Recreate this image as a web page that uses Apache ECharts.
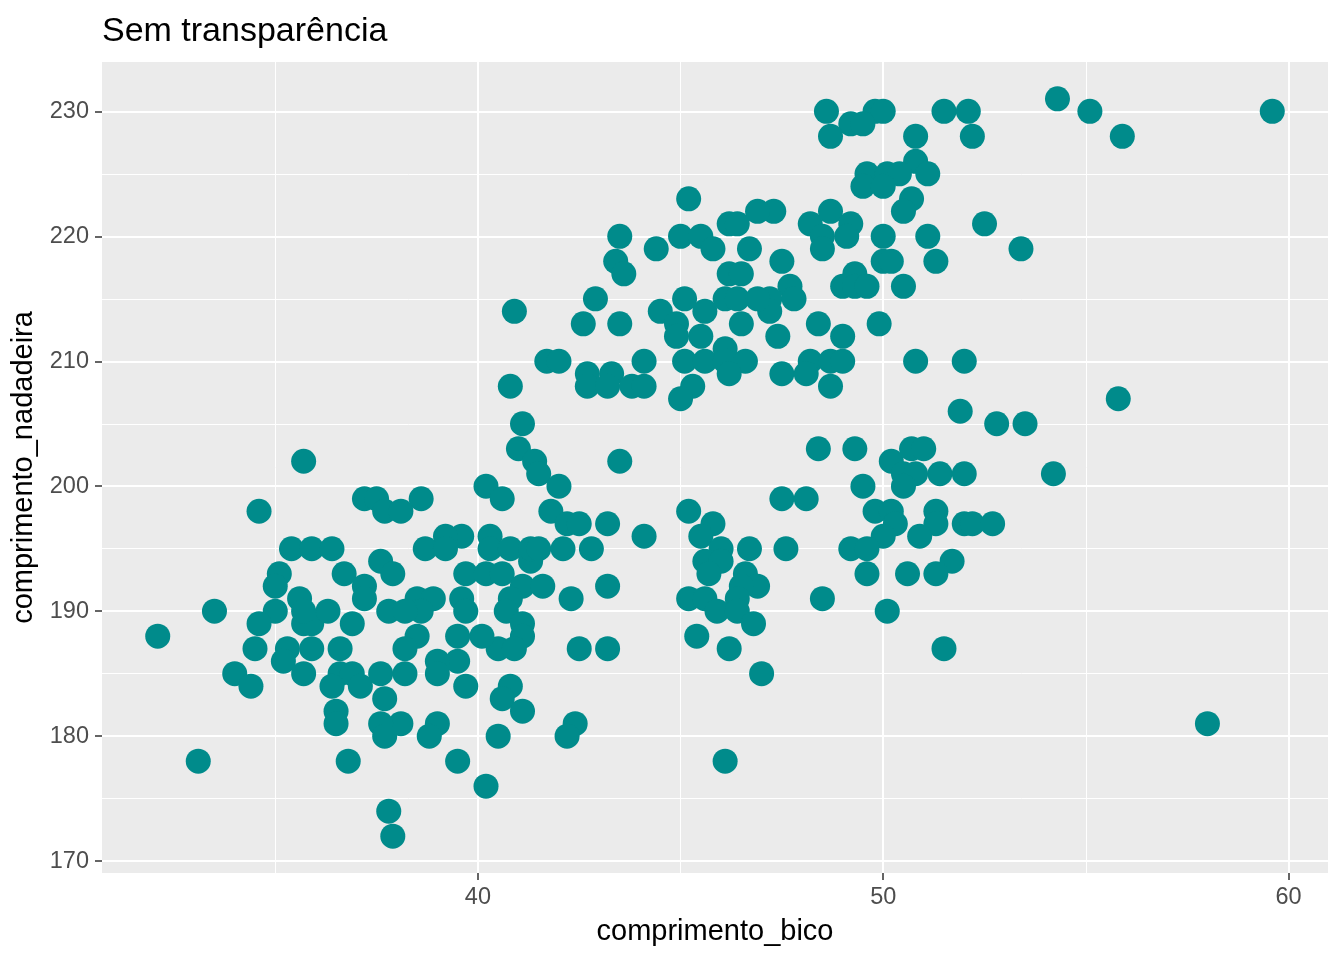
<!DOCTYPE html>
<html>
<head>
    <meta charset="utf-8"/>
    <title>Sem transparência</title>
    <script src="https://cdn.jsdelivr.net/npm/echarts@6/dist/echarts.min.js"></script>
    <style>
        html, body { margin: 0; padding: 0; background: #fff; }
        #chart1 { width: 1344px; height: 960px; }
    </style>
</head>
<body>
<div id="chart1"></div>
<script type="text/javascript">
    // comprimento do bico (x) e da nadadeira (y)
    var comprimentoBico = [
        48.6, 49.8, 50.0, 51.5, 52.1, 55.1, 59.6, 54.3,
        49.2, 49.5, 48.7, 50.8, 52.2, 55.9, 50.8,
        49.6, 50.1, 50.4, 51.1, 49.5, 50.0, 50.7,
        50.5, 47.3, 46.9, 48.7,
        48.2, 49.2, 52.5, 48.5, 49.1, 50.0, 51.1,
        48.5, 53.4, 47.5, 50.0, 50.2, 51.3, 49.3,
        49.0, 49.3, 49.6, 50.5, 47.7, 47.2, 47.8, 47.2,
        48.4, 49.9, 47.4, 49.0,
        48.2, 48.7, 49.0, 50.8, 52.0, 47.5, 48.1, 48.7, 51.9,
        45.2, 43.5, 44.4, 45.0, 45.5, 45.8, 46.2, 46.4, 46.7,
        43.4, 43.6, 46.2, 46.5,
        42.9, 45.1, 45.6, 46.1, 46.4, 46.9,
        40.9, 44.5, 42.6, 43.5, 44.9, 46.5, 44.9, 45.5, 46.1,
        41.7, 42.0, 44.1, 45.1, 45.6, 46.1, 46.6,
        46.2, 45.3, 45.0, 42.7, 43.3, 42.7, 43.2, 43.8, 44.1, 40.8,
        41.1, 41.0, 41.4, 41.5, 42.0, 43.5, 40.2, 40.6, 38.6,
        41.8, 42.2, 42.5, 43.2, 42.8, 44.1, 45.2,
        40.3, 39.6, 39.2, 38.7, 39.2, 40.3, 40.8, 41.3, 41.3, 41.5, 42.1,
        39.7, 40.2, 40.6, 41.1, 41.6, 43.2, 42.3, 40.8, 40.7,
        41.1, 41.1, 40.5, 40.9, 42.5, 43.2, 40.1, 39.5, 39.5, 39.0,
        39.0, 38.2, 39.7, 40.8, 40.6, 41.1, 42.4, 42.2, 40.5,
        39.0, 38.8, 38.1, 39.5, 40.2,
        38.5, 38.9, 39.6, 39.7, 38.6, 38.5, 38.2,
        35.7, 34.6, 37.2, 37.5, 37.7, 38.1,
        35.4, 35.9, 36.4,
        35.1, 35.0, 36.7, 37.6, 37.9, 37.2, 37.2, 32.1, 33.5, 35.0,
        35.6, 35.7, 35.9, 36.3, 35.7, 34.6, 36.9, 37.8, 38.2,
        34.5, 35.3, 35.2, 35.9, 36.6, 35.7, 34.0, 34.4, 36.6, 36.9,
        37.6, 36.4, 37.1, 37.7, 36.5, 36.5, 37.6, 37.7,
        33.1, 36.8, 37.8, 37.9,
        52.8, 53.5, 48.4, 49.3, 50.2, 50.7, 51.0, 54.2,
        50.5, 50.8, 51.4, 52.0, 50.5, 49.5, 47.5, 48.1,
        49.8, 50.2, 51.3, 45.8, 50.3, 51.3, 52.0, 52.2, 52.7,
        45.5, 50.0, 50.9, 46.0, 46.7, 47.6, 49.2, 49.6,
        45.6, 46.0, 51.7, 45.7, 46.6, 49.6, 50.6, 51.3,
        46.9, 46.5, 45.2, 45.6, 46.4, 48.5, 45.9, 46.4, 50.1,
        46.8, 45.4, 46.2, 51.5, 47.0, 46.1,
        55.8, 58.0
    ];
    var comprimentoNadadeira = [
        230, 230, 230, 230, 230, 230, 230, 231,
        229, 229, 228, 228, 228, 228, 226,
        225, 225, 225, 225, 224, 224, 223,
        222, 222, 222, 222,
        221, 221, 221, 220, 220, 220, 220,
        219, 219, 218, 218, 218, 218, 217,
        216, 216, 216, 216, 216, 215, 215, 214,
        213, 213, 212, 212,
        210, 210, 210, 210, 210, 209, 209, 208, 206,
        223, 220, 219, 220, 220, 219, 221, 221, 219,
        218, 217, 217, 217,
        215, 215, 214, 215, 215, 215,
        214, 214, 213, 213, 213, 213, 212, 212, 211,
        210, 210, 210, 210, 210, 210, 210,
        209, 208, 207, 209, 209, 208, 208, 208, 208, 208,
        205, 203, 202, 201, 200, 202, 200, 199, 199,
        198, 197, 197, 197, 195, 196, 198,
        196, 196, 196, 195, 195, 195, 195, 194, 195, 195, 195,
        193, 193, 193, 192, 192, 192, 191, 191, 190,
        189, 188, 187, 187, 187, 187, 188, 188, 186, 186,
        185, 185, 184, 184, 183, 182, 181, 180, 180,
        181, 180, 181, 178, 176,
        191, 191, 191, 190, 190, 188, 187,
        202, 198, 199, 199, 198, 198,
        195, 195, 195,
        193, 192, 193, 194, 193, 192, 191, 188, 190, 190,
        191, 189, 189, 190, 190, 189, 189, 190, 190,
        187, 187, 186, 187, 187, 185, 185, 184, 185, 185,
        185, 184, 184, 183, 182, 181, 181, 180,
        178, 178, 174, 172,
        205, 205, 203, 203, 202, 203, 203, 201,
        201, 201, 201, 201, 200, 200, 199, 199,
        198, 198, 198, 197, 197, 197, 197, 197, 197,
        196, 196, 196, 195, 195, 195, 195, 195,
        194, 194, 194, 193, 193, 193, 193, 193,
        192, 192, 191, 191, 191, 191, 190, 190, 190,
        189, 188, 187, 187, 185, 178,
        207, 181
    ];
    // marcas dos eixos
    var xMajor = [40, 50, 60];
    var xMinor = [35, 45, 55];
    var yMajor = [170, 180, 190, 200, 210, 220, 230];
    var yMinor = [175, 185, 195, 205, 215, 225];

    var pontos = comprimentoBico.map(function (x, i) {
        return [x, comprimentoNadadeira[i]];
    });

    var fonte = 'Liberation Sans, Arial, sans-serif';
    var xMin = 30.725, xMax = 60.975;
    var yMin = 169.05, yMax = 233.95;

    var myChart1 = echarts.init(document.getElementById('chart1'));
    myChart1.setOption({
        animation: false,
        backgroundColor: '#ffffff',
        title: {
            text: 'Sem transparência',
            left: 97,
            top: 10,
            textStyle: {fontFamily: fonte, fontSize: 34, fontWeight: 'normal', color: '#000000'}
        },
        grid: {
            left: 102, right: 16, top: 62, bottom: 87,
            show: true, backgroundColor: '#EBEBEB', borderWidth: 0
        },
        xAxis: [
            {   // linhas secundárias
                type: 'value', min: xMin, max: xMax,
                minInterval: 5, maxInterval: 5,
                axisLine: {show: false},
                axisTick: {show: false, customValues: xMinor},
                axisLabel: {show: false},
                splitLine: {show: true, lineStyle: {color: '#ffffff', width: 1}}
            },
            {   // linhas principais, marcas e rótulos
                type: 'value', min: xMin, max: xMax,
                minInterval: 10, maxInterval: 10,
                position: 'bottom',
                name: 'comprimento_bico',
                nameLocation: 'middle',
                nameGap: 44,
                nameTextStyle: {fontFamily: fonte, fontSize: 29, color: '#000000'},
                axisLine: {show: false},
                axisTick: {show: true, length: 7, customValues: xMajor,
                    lineStyle: {color: '#333333', width: 1.5}},
                axisLabel: {show: true, customValues: xMajor, margin: 13,
                    fontFamily: fonte, fontSize: 23.5, color: '#4D4D4D'},
                splitLine: {show: true, lineStyle: {color: '#ffffff', width: 2}}
            }
        ],
        yAxis: [
            {
                type: 'value', min: yMin, max: yMax,
                minInterval: 5, maxInterval: 5,
                axisLine: {show: false},
                axisTick: {show: false, customValues: yMinor},
                axisLabel: {show: false},
                splitLine: {show: true, lineStyle: {color: '#ffffff', width: 1}}
            },
            {
                type: 'value', min: yMin, max: yMax,
                minInterval: 10, maxInterval: 10,
                position: 'left',
                name: 'comprimento_nadadeira',
                nameLocation: 'middle',
                nameRotate: 90,
                nameGap: 50,
                nameTextStyle: {fontFamily: fonte, fontSize: 29, color: '#000000'},
                axisLine: {show: false},
                axisTick: {show: true, length: 7, customValues: yMajor,
                    lineStyle: {color: '#333333', width: 1.5}},
                axisLabel: {show: true, customValues: yMajor, margin: 13,
                    fontFamily: fonte, fontSize: 23.5, color: '#4D4D4D'},
                splitLine: {show: true, lineStyle: {color: '#ffffff', width: 2}}
            }
        ],
        series: [
            {
                type: 'scatter',
                xAxisIndex: 0,
                yAxisIndex: 0,
                symbol: 'circle',
                symbolSize: 25,
                itemStyle: {color: '#008B8B', opacity: 1},
                data: pontos
            }
        ]
    });
</script>
</body>
</html>
